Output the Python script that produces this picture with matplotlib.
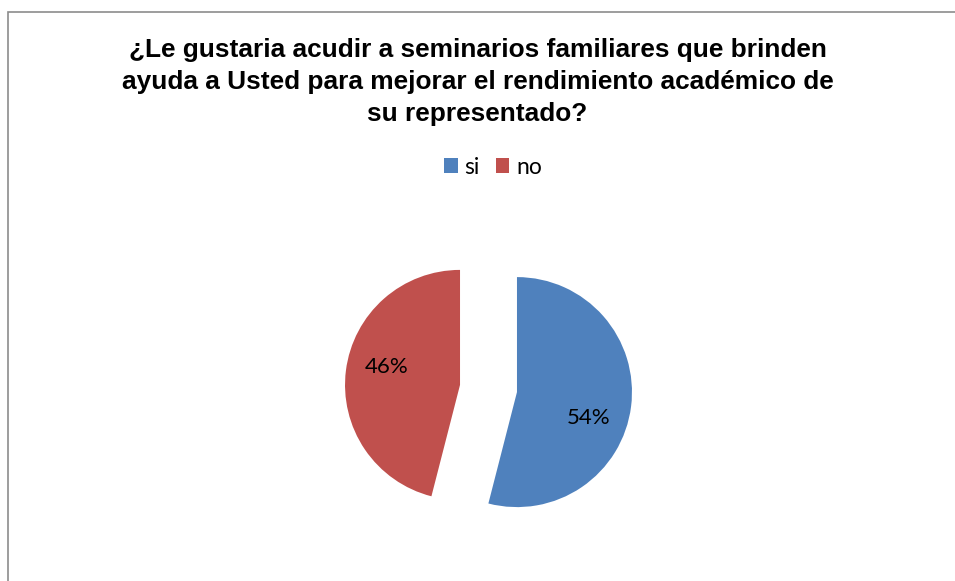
import numpy as np
import matplotlib.pyplot as plt
from matplotlib.patches import Rectangle

labels = ['si', 'no']
valores = [54, 46]
colores = ['#4F81BD', '#C0504D']

fig = plt.figure(figsize=(9.55, 5.81), dpi=100)

# marco del gráfico (cortado a la derecha y abajo)
fig.patches.append(Rectangle((8 / 955, -0.05), 1.0, 1 - 12 / 581 + 0.05,
                             transform=fig.transFigure, fill=False,
                             edgecolor='#8c8c8c', linewidth=1.2))

fig.text(0.5, 1 - 82 / 581, '¿Le gustaria acudir a seminarios familiares que brinden\n'
         'ayuda a Usted para mejorar el rendimiento académico de\n'
         'su representado?', ha='center', va='center',
         fontsize=18.95, fontweight='bold', family='Liberation Sans',
         linespacing=1.42)

ax = fig.add_axes([0, 0, 1, 1])

R = 115
wedges, textos, autotextos = ax.pie(
    valores, colors=colores, startangle=90, counterclock=False,
    explode=[28.7, 28.7], radius=R, center=(488.5, 581 - 388.5),
    autopct='%1.0f%%', pctdistance=0.63, frame=True,
    textprops={'fontsize': 16, 'family': 'Lato'})
ax.axis('off')
ax.set_xlim(0, 955)
ax.set_ylim(0, 581)
ax.set_aspect('equal')

# posición de las etiquetas como en Excel
for w, t, ang in zip(wedges, autotextos, [-20, 166]):
    cx, cy = w.center
    t.set_position((cx + 0.66 * R * np.cos(np.radians(ang)),
                    cy + 0.66 * R * np.sin(np.radians(ang))))

leg = fig.legend(wedges, labels, loc='center', bbox_to_anchor=(493 / 955, 1 - 167 / 581),
                 ncol=2, frameon=False, handlelength=0.6, handleheight=0.6,
                 handletextpad=0.3, columnspacing=0.7, prop={'family': 'Lato', 'size': 16.5})

fig.savefig('out.png', dpi=100)
